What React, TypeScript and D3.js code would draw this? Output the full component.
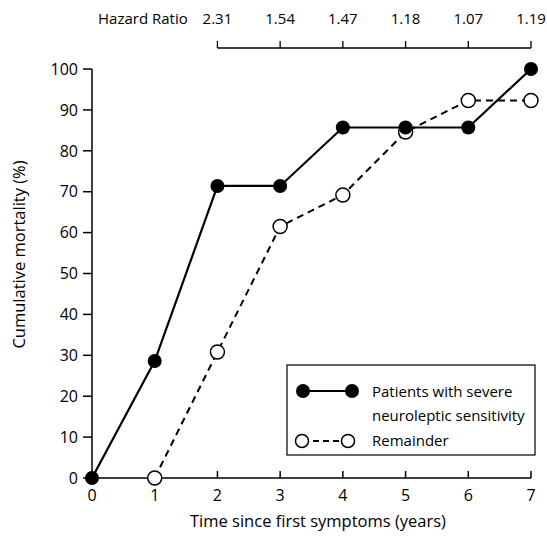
import React from "react";
import * as d3 from "d3";

const years = [0, 1, 2, 3, 4, 5, 6, 7];
const severe = [0, 28.6, 71.4, 71.4, 85.7, 85.7, 85.7, 100];
const remainderYears = [1, 2, 3, 4, 5, 6, 7];
const remainder = [0, 30.8, 61.5, 69.2, 84.6, 92.3, 92.3];
const yTicks = [0, 10, 20, 30, 40, 50, 60, 70, 80, 90, 100];
const hrYears = [2, 3, 4, 5, 6, 7];
const hazardRatios = ["2.31", "1.54", "1.47", "1.18", "1.07", "1.19"];

const W = 547;
const H = 548;
const FONT = "'Open Sans', Lato, sans-serif";

export default function App() {
  const x = d3.scaleLinear().domain([0, 7]).range([92, 531]);
  const y = d3.scaleLinear().domain([0, 100]).range([478, 69]);
  const line = d3
    .line<[number, number]>()
    .x((d) => x(d[0]))
    .y((d) => y(d[1]));
  const sevPts: [number, number][] = years.map((t, i) => [t, severe[i]]);
  const remPts: [number, number][] = remainderYears.map((t, i) => [t, remainder[i]]);
  const r = 7;
  const hrY = 48;

  return (
    <svg
      width={W}
      height={H}
      style={{ position: "absolute", left: 0, top: 0, background: "#fff" }}
      fontFamily={FONT}
    >
      <rect x={0} y={0} width={W} height={H} fill="#fff" />
      {/* axes */}
      <line x1={x(0)} x2={x(7)} y1={y(0)} y2={y(0)} stroke="#000" strokeWidth={1.5} />
      <line x1={x(0)} x2={x(0)} y1={y(0)} y2={y(100)} stroke="#000" strokeWidth={1.5} />
      {yTicks.map((t) => (
        <g key={t}>
          <line x1={x(0) - 9} x2={x(0)} y1={y(t)} y2={y(t)} stroke="#000" strokeWidth={1.5} />
          <text x={x(0) - 14} y={y(t)} dy="0.36em" textAnchor="end" fontSize={16}>
            {t}
          </text>
        </g>
      ))}
      {years.map((t) => (
        <g key={t}>
          <line x1={x(t)} x2={x(t)} y1={y(0)} y2={y(0) - 7} stroke="#000" strokeWidth={1.5} />
          <text x={x(t)} y={501} textAnchor="middle" fontSize={16}>
            {t}
          </text>
        </g>
      ))}
      <text x={318} y={527} textAnchor="middle" fontSize={16.5}>
        Time since first symptoms (years)
      </text>
      <text
        transform={`translate(25,${y(50) - 19}) rotate(-90)`}
        textAnchor="middle"
        fontSize={16.5}
      >
        Cumulative mortality (%)
      </text>

      {/* hazard ratio bracket */}
      <line x1={x(2)} x2={x(7)} y1={hrY} y2={hrY} stroke="#000" strokeWidth={1.3} />
      {hrYears.map((t, i) => (
        <g key={t}>
          <line x1={x(t)} x2={x(t)} y1={hrY} y2={hrY - 7} stroke="#000" strokeWidth={1.3} />
          <text x={x(t)} y={24} textAnchor="middle" fontSize={15}>
            {hazardRatios[i]}
          </text>
        </g>
      ))}
      <text x={98} y={24} fontSize={15}>
        Hazard Ratio
      </text>

      {/* series */}
      <path d={line(remPts) || ""} fill="none" stroke="#000" strokeWidth={2} strokeDasharray="7,5" />
      <path d={line(sevPts) || ""} fill="none" stroke="#000" strokeWidth={2.2} />
      {remPts.map((p, i) => (
        <circle key={"r" + i} cx={x(p[0])} cy={y(p[1])} r={r} fill="#fff" stroke="#000" strokeWidth={1.5} />
      ))}
      {sevPts.map((p, i) => (
        <circle key={"s" + i} cx={x(p[0])} cy={y(p[1])} r={r} fill="#000" />
      ))}

      {/* legend */}
      <rect x={287} y={365} width={248} height={90} fill="#fff" stroke="#000" strokeWidth={1.2} />
      <line x1={303} x2={352} y1={391} y2={391} stroke="#000" strokeWidth={2} />
      <circle cx={303} cy={391} r={r} fill="#000" />
      <circle cx={352} cy={391} r={r} fill="#000" />
      <text x={372} y={397} fontSize={15}>Patients with severe</text>
      <text x={372} y={421} fontSize={15}>neuroleptic sensitivity</text>
      <line x1={303} x2={350} y1={441} y2={441} stroke="#000" strokeWidth={2} strokeDasharray="6,4" />
      <circle cx={302} cy={441} r={r - 0.5} fill="#fff" stroke="#000" strokeWidth={1.5} />
      <circle cx={348} cy={441} r={r - 0.5} fill="#fff" stroke="#000" strokeWidth={1.5} />
      <text x={372} y={446} fontSize={15}>Remainder</text>
    </svg>
  );
}
